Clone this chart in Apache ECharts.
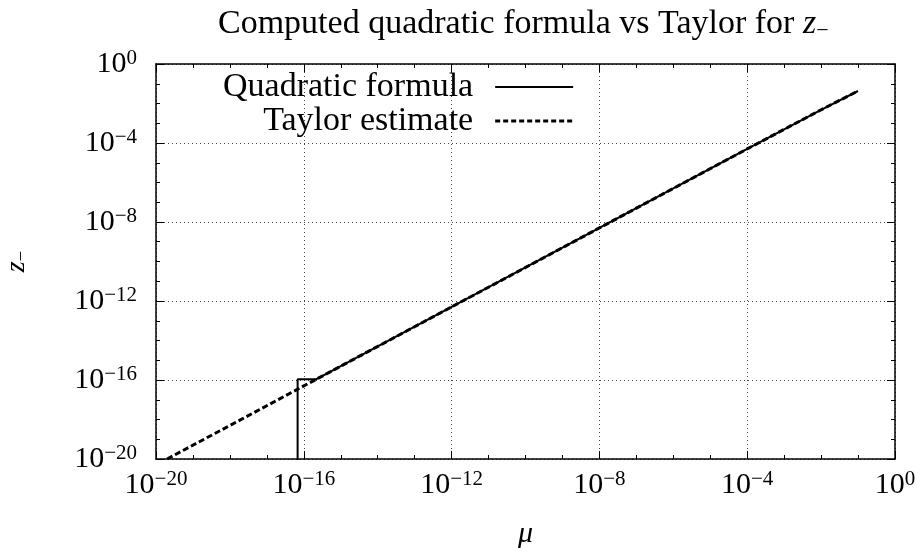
<!DOCTYPE html>
<html>
<head>
<meta charset="utf-8">
<script src="https://cdn.jsdelivr.net/npm/echarts@6/dist/echarts.min.js"></script>
<style>
html, body { margin: 0; padding: 0; background: #fff; }
#chart { width: 918px; height: 548px; }
</style>
</head>
<body>
<div id="chart"></div>
<script>
// mu and computed z_-
var quadMu = [1e-1, 1e-2, 1e-4, 1e-8, 1e-12, 2.2e-16, 6.8e-17, 6.8e-17];
var quadZ = [4.3e-2, 4.8e-3, 5e-5, 5e-9, 5e-13, 1.1e-16, 1.1e-16, 1e-22];
var taylorMu = [2e-20, 1e-16, 1e-12, 1e-8, 1e-4, 1e-2, 1e-1];
var taylorZ = [1e-20, 5e-17, 5e-13, 5e-9, 5e-5, 4.8e-3, 4.3e-2];
var seriesNames = ['Quadratic formula', 'Taylor estimate'];

var FONT = 'Liberation Serif';

function pairs(xs, ys) {
    return xs.map(function (x, i) { return [x, ys[i]]; });
}

// 10^n style labels
function powLabel(v) {
    var e = Math.round(Math.log10(v));
    return '{b|10}{s|' + (e < 0 ? '\u2212' + (-e) : e) + '}';
}
var powRich = {
    b: { fontSize: 30, fontFamily: FONT, color: '#000' },
    s: { fontSize: 21, fontFamily: FONT, color: '#000', padding: [0, 0, 12, 0] }
};

function logAxis(pos, step, opts) {
    var ax = {
        type: 'log',
        logBase: 10,
        min: 1e-20,
        max: 1,
        interval: step,
        position: pos,
        axisLine: { show: false },
        axisTick: { show: true, inside: true, length: step === 4 ? 8 : 4, lineStyle: { color: '#000', width: 1 } },
        axisLabel: { show: false },
        splitLine: { show: false }
    };
    return Object.assign(ax, opts || {});
}

var boxLine = { show: true, lineStyle: { color: '#000', width: 1.5 } };
var gridDots = { show: true, lineStyle: { color: '#444', width: 1, type: [1, 3] } };

var chart = echarts.init(document.getElementById('chart'));
chart.setOption({
    animation: false,
    title: {
        text: '{n|Computed quadratic formula vs Taylor for }{i|z}{m|\u2212}',
        left: 218,
        top: 6,
        padding: 0,
        textStyle: {
            rich: {
                n: { fontSize: 34, fontFamily: FONT, fontWeight: 'normal', color: '#000' },
                i: { fontSize: 34, fontFamily: FONT, fontWeight: 'normal', fontStyle: 'italic', color: '#000' },
                m: { fontSize: 22, fontFamily: FONT, fontWeight: 'normal', color: '#000', padding: [14, 0, 0, 0] }
            }
        }
    },
    legend: {
        orient: 'vertical',
        align: 'right',
        left: 218,
        top: 65,
        itemWidth: 78,
        itemHeight: 12,
        itemGap: 0,
        itemStyle: { color: 'rgba(0,0,0,0)', borderColor: 'rgba(0,0,0,0)', borderWidth: 0 },
        textStyle: { fontSize: 34, lineHeight: 34, fontFamily: FONT, color: '#000', padding: [0, 17, 0, 0] },
        data: [
            { name: seriesNames[0], lineStyle: { width: 2 } },
            { name: seriesNames[1], lineStyle: { width: 3.2, type: [5, 3] } }
        ]
    },
    grid: { left: 156, right: 23, top: 64, bottom: 89, outerBoundsMode: 'none' },
    xAxis: [
        logAxis('bottom', 4, {
            axisLine: boxLine,
            axisLabel: { show: true, margin: 10, formatter: powLabel, rich: powRich },
            splitLine: gridDots,
            name: '\u03bc',
            nameLocation: 'middle',
            nameGap: 60,
            nameTextStyle: { fontSize: 30, fontFamily: FONT, fontStyle: 'italic', color: '#000' }
        }),
        logAxis('bottom', 1),
        logAxis('top', 4, { axisLine: boxLine }),
        logAxis('top', 1)
    ],
    yAxis: [
        logAxis('left', 4, {
            axisLine: boxLine,
            axisLabel: { show: true, margin: 19, formatter: powLabel, rich: powRich },
            splitLine: gridDots,
            name: '{i|z}{m|\u2212}',
            nameLocation: 'middle',
            nameGap: 124,
            nameRotate: 90,
            nameTextStyle: {
                rich: {
                    i: { fontSize: 28, fontFamily: FONT, fontStyle: 'italic', color: '#000' },
                    m: { fontSize: 19, fontFamily: FONT, color: '#000', padding: [12, 0, 0, 0] }
                }
            }
        }),
        logAxis('left', 1),
        logAxis('right', 4, { axisLine: boxLine }),
        logAxis('right', 1)
    ],
    series: [
        {
            name: seriesNames[0],
            type: 'line',
            data: pairs(quadMu, quadZ),
            symbol: 'none',
            lineStyle: { color: '#000', width: 2 },
            itemStyle: { color: '#000' },
            z: 2
        },
        {
            name: seriesNames[1],
            type: 'line',
            data: pairs(taylorMu, taylorZ),
            symbol: 'none',
            lineStyle: { color: '#000', width: 3, type: [6, 3] },
            itemStyle: { color: '#000' },
            z: 3
        }
    ]
});
</script>
</body>
</html>
